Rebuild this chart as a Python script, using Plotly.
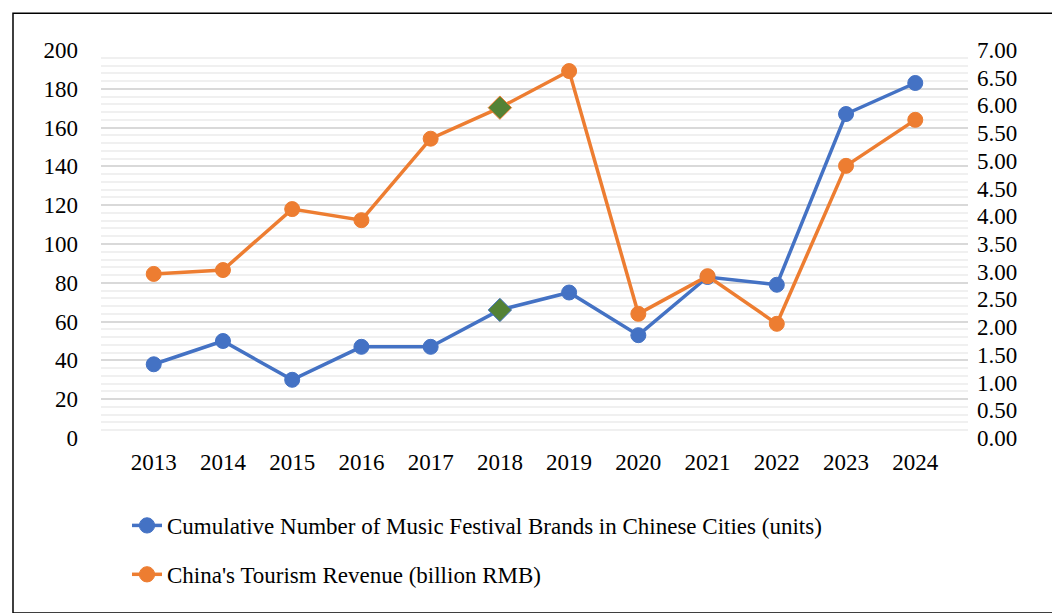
import plotly.graph_objects as go

years = [str(y) for y in range(2013, 2025)]
brands = [38, 50, 30, 47, 47, 66, 75, 53, 83, 79, 167, 183]
revenue = [2.96, 3.03, 4.13, 3.93, 5.40, 5.96, 6.62, 2.24, 2.92, 2.06, 4.91, 5.74]
highlight_year = "2018"

BLUE = "#4472C4"; ORANGE = "#ED7D31"; GREEN = "#548235"
def mk(color):
    return dict(color=[GREEN if y == highlight_year else color for y in years],
                symbol=["diamond" if y == highlight_year else "circle" for y in years],
                size=[18 if y == highlight_year else 15 for y in years], opacity=1)

TF = dict(family="Liberation Serif", size=23, color="black")
fig = go.Figure()
fig.add_trace(go.Scatter(x=years, y=brands, mode="lines+markers", name="Cumulative Number of Music Festival Brands in Chinese Cities (units)",
                         line=dict(color=BLUE, width=3.5), marker=mk(BLUE), legendgroup="a"))
fig.add_trace(go.Scatter(x=years, y=revenue, mode="lines+markers", name="China's Tourism Revenue (billion RMB)",
                         line=dict(color=ORANGE, width=3.5), marker=mk(ORANGE), yaxis="y2", legendgroup="b"))
fig.update_layout(
    width=1060, height=613, paper_bgcolor="white", plot_bgcolor="white",
    font=TF,
    margin=dict(l=93, r=100, t=42, b=183),
    xaxis=dict(showgrid=False, showline=False, ticks="", tickfont=TF, ticklabelstandoff=8),
    yaxis=dict(range=[0, 200], dtick=20, gridcolor="#D9D9D9", gridwidth=2, zeroline=False, tickfont=TF,
               minor=dict(dtick=4, showgrid=True, gridcolor="#F0F0F0", gridwidth=2), ticklabelstandoff=22),
    yaxis2=dict(range=[0, 7], dtick=0.5, tickformat=".2f", overlaying="y", side="right", showgrid=False,
                zeroline=False, tickfont=TF, ticklabelstandoff=8),
    legend=dict(orientation="v", x=0.03, y=-0.17, xanchor="left", yanchor="top", font=TF, tracegroupgap=16),
    shapes=[dict(type="rect", xref="paper", yref="paper", x0=-0.1015, x1=1.1096, y0=-0.451, y1=1.095,
                 line=dict(color="black", width=1.5))],
)
fig.write_html("out.html")
